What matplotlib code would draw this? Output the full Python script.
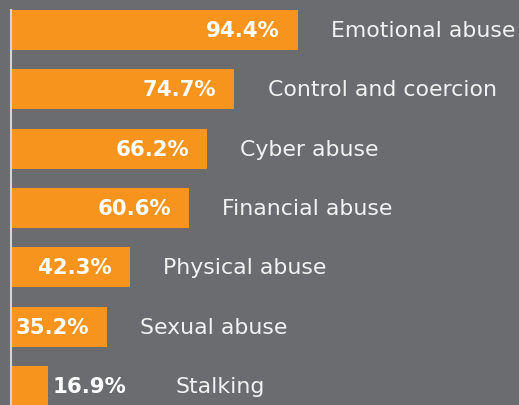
import matplotlib.pyplot as plt

categories = ['Emotional abuse', 'Control and coercion', 'Cyber abuse',
              'Financial abuse', 'Physical abuse', 'Sexual abuse', 'Stalking']
values = [94.4, 74.7, 66.2, 60.6, 42.3, 35.2, 16.9]

bg = '#6b6c70'
orange = '#f7941d'

fig = plt.figure(figsize=(5.19, 4.06), dpi=100, facecolor=bg)
ax = fig.add_axes([11/519, 0, 1 - 11/519, 395/406])
ax.set_facecolor(bg)

pos = list(range(len(values)))
ax.barh(pos, values, height=0.67, color=orange)

ax.set_xlim(5.4, 163)
ax.set_ylim(6.32, -0.337)

for s in ['top', 'right', 'bottom']:
    ax.spines[s].set_visible(False)
ax.spines['left'].set_color('#d4d4d6')
ax.spines['left'].set_linewidth(1.5)
ax.set_xticks([])
ax.set_yticks([])

vfont = dict(color='white', fontsize=15.3, fontweight='bold', family='DejaVu Sans')
cfont = dict(color='#f2f2f2', fontsize=15.8, fontweight='normal', family='DejaVu Sans')

for i, (cat, v) in enumerate(zip(categories, values)):
    if v > 20:
        ax.annotate(f'{v}%', (v, i), xytext=(-13, 0), textcoords='offset points',
                    ha='right', va='center', **vfont)
        ax.annotate(cat, (v, i), xytext=(24, 0), textcoords='offset points',
                    ha='left', va='center', **cfont)
    else:
        ax.annotate(f'{v}%', (v, i), xytext=(3, 0), textcoords='offset points',
                    ha='left', va='center', **vfont)
        ax.annotate(cat, (v, i), xytext=(92, 0), textcoords='offset points',
                    ha='left', va='center', **cfont)

fig.savefig('out.png', dpi=100, facecolor=bg)
